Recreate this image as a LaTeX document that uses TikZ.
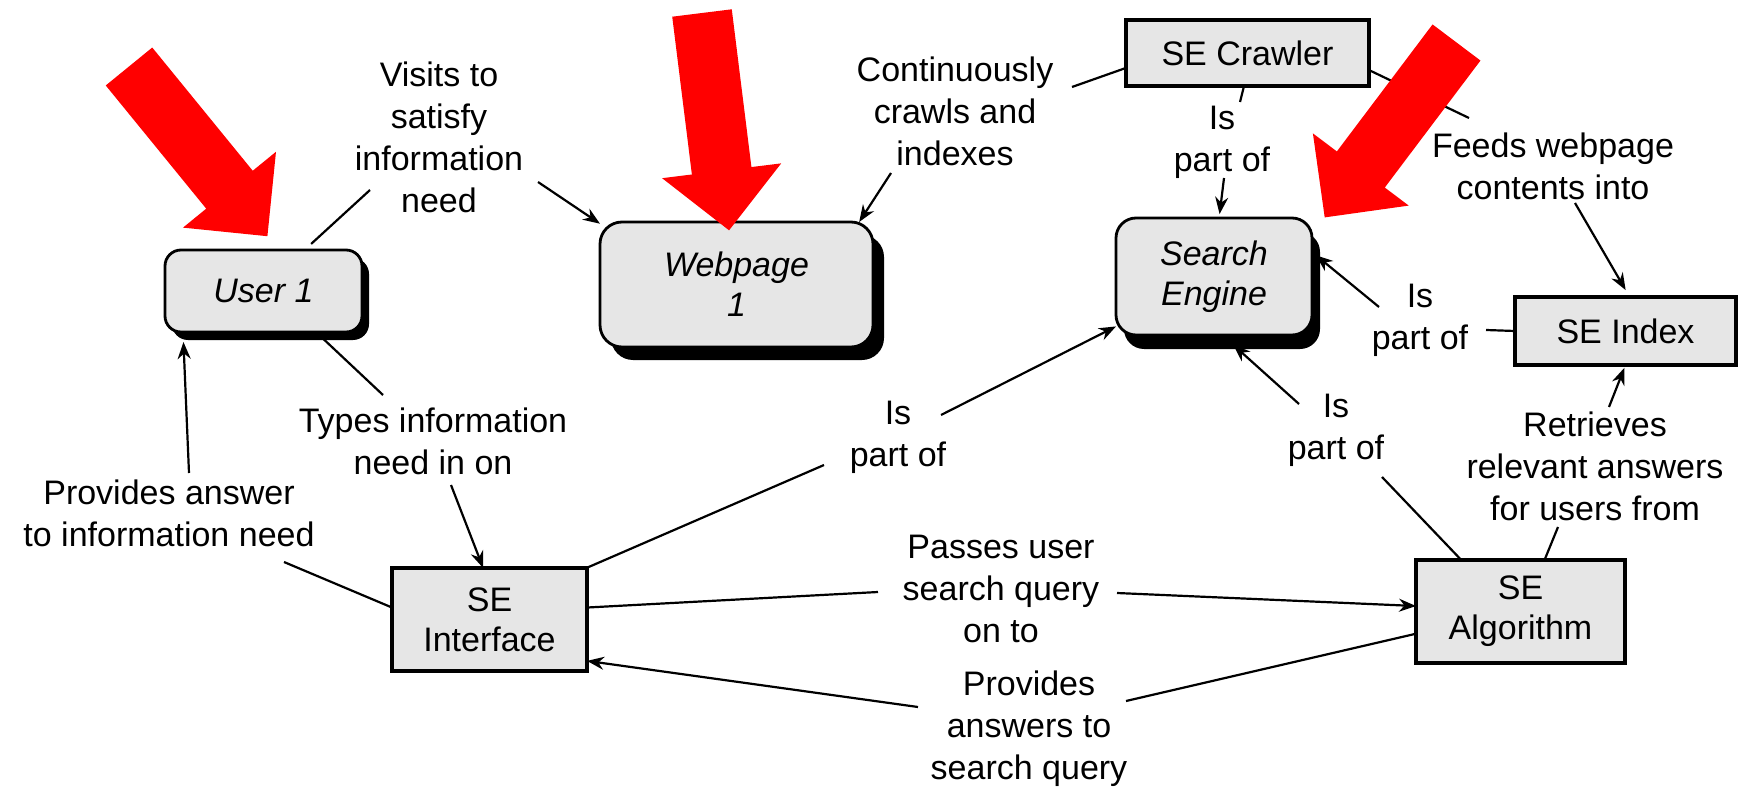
\documentclass[tikz,border=0pt]{standalone}
\usepackage{fontspec}
\setmainfont{Liberation Sans}
\usetikzlibrary{arrows.meta,shadows}
\definecolor{boxgray}{RGB}{230,230,230}
\definecolor{arrowred}{RGB}{255,0,0}
\newcommand{\boxfont}{\fontsize{34}{40}\selectfont}
\newcommand{\lblfont}{\fontsize{34}{42}\selectfont}
\tikzset{
  concept/.style={draw=black, line width=2.8pt, fill=boxgray, rounded corners=16pt,
    inner sep=0pt, outer sep=0pt, align=center, font=\boxfont\itshape},
  part/.style={draw=black, line width=3.5pt, fill=boxgray, inner sep=0pt, outer sep=0pt,
    align=center, font=\boxfont},
  lbl/.style={align=center, font=\lblfont, inner sep=0pt},
  link/.style={line width=2.2pt},
  linkarrow/.style={line width=2.2pt, -{Stealth[length=17pt,width=13pt]}},
  redarrow/.style={fill=arrowred, draw=none},
}
\begin{document}
\begin{tikzpicture}[x=1pt,y=-1pt]
\useasboundingbox (0,0) rectangle (1742,794);
\fill[white] (0,0) rectangle (1742,794);

% concept boxes
\node[concept, minimum width=197pt, minimum height=82pt,
  drop shadow={shadow xshift=7pt,shadow yshift=-8pt,fill=black,opacity=1}]
  (user) at (263.5,291) {User 1};
\node[concept, minimum width=273pt, minimum height=125pt, rounded corners=22pt,
  drop shadow={shadow xshift=11pt,shadow yshift=-13pt,fill=black,opacity=1}]
  (webpage) at (736.5,284.5) {Webpage\\1};
\node[concept, minimum width=196pt, minimum height=117pt, rounded corners=20pt,
  drop shadow={shadow xshift=8pt,shadow yshift=-14pt,fill=black,opacity=1}]
  (se) at (1214,276.5) {Search\\Engine};

% part boxes
\node[part, minimum width=243pt, minimum height=66pt] (crawler) at (1247.5,53) {SE Crawler};
\node[part, minimum width=221pt, minimum height=68pt] (index) at (1625.5,331) {SE Index};
\node[part, minimum width=195pt, minimum height=103pt] (iface) at (489.5,619.5) {SE\\Interface};
\node[part, minimum width=209pt, minimum height=103pt] (algo) at (1520.5,611.5) {SE\\Algorithm};

% link labels
\node[lbl] (visits) at (439,137.5) {Visits to\\satisfy\\information\\need};
\node[lbl] (crawls) at (955,111.5) {Continuously\\crawls and\\indexes};
\node[lbl] (partofA) at (1222,142.5) {Is\\part of};
\node[lbl] (feeds) at (1553,166) {Feeds webpage\\contents into};
\node[lbl] (partofB) at (1420,320) {Is\\part of};
\node[lbl] (types) at (433,441) {Types information\\need in on};
\node[lbl] (provA) at (169,513) {Provides answer\\to information need};
\node[lbl] (partofC) at (898,437) {Is\\part of};
\node[lbl] (partofD) at (1336,430) {Is\\part of};
\node[lbl] (retr) at (1595,466.5) {Retrieves\\relevant answers\\for users from};
\node[lbl] (passes) at (1001,588.5) {Passes user\\search query\\on to};
\node[lbl] (provB) at (1029,728.5) {Provides\\answers to\\search query};

% connector ends beside the labels
\coordinate (visits-a) at (370,190);   \coordinate (visits-b) at (538,182);
\coordinate (crawls-a) at (1072,87);   \coordinate (crawls-b) at (891,173);
\coordinate (partofA-a) at (1240,102); \coordinate (partofA-b) at (1224,178);
\coordinate (feeds-a) at (1469,118);   \coordinate (feeds-b) at (1575,203);
\coordinate (partofB-a) at (1486,330); \coordinate (partofB-b) at (1379,307);
\coordinate (types-a) at (383,395);    \coordinate (types-b) at (451,485);
\coordinate (provA-a) at (284,562);    \coordinate (provA-b) at (189,473);
\coordinate (partofC-a) at (824,465);  \coordinate (partofC-b) at (941,415);
\coordinate (partofD-a) at (1382,477); \coordinate (partofD-b) at (1299,404);
\coordinate (retr-a) at (1558,527);    \coordinate (retr-b) at (1609,407);
\coordinate (passes-a) at (878,592);   \coordinate (passes-b) at (1117,593);
\coordinate (provB-a) at (1126,701);   \coordinate (provB-b) at (918,707);

% connectors
\draw[link, shorten <=9pt] (user.45) -- (visits-a);
\draw[linkarrow] (visits-b) -- (webpage.156);
\draw[link] (crawler.187) -- (crawls-a);
\draw[linkarrow] (crawls-b) -- (webpage.27);
\draw[link] (crawler.264) -- (partofA-a);
\draw[linkarrow, shorten >=4pt] (partofA-b) -- (se.85);
\draw[link] (crawler.-8) -- (feeds-a);
\draw[linkarrow, shorten >=8pt] (feeds-b) -- (index.83);
\draw[link] (index.180) -- (partofB-a);
\draw[linkarrow, shorten >=5pt] (partofB-b) -- (se.14);
\draw[linkarrow, shorten >=10pt] (provA-b) -- (user.207);
\draw[link, shorten <=9pt] (user.-38) -- (types-a);
\draw[linkarrow] (types-b) -- (iface.97);
\draw[link] (iface.173) -- (provA-a);
\draw[link] (iface.28) -- (partofC-a);
\draw[linkarrow] (partofC-b) -- (se.207);
\draw[link] (algo.139) -- (partofD-a);
\draw[linkarrow, shorten >=15pt] (partofD-b) -- (se.-82);
\draw[link] (algo.65) -- (retr-a);
\draw[linkarrow, shorten >=3pt] (retr-b) -- (index.270);
\draw[link] (iface.7) -- (passes-a);
\draw[linkarrow] (passes-b) -- (algo.177);
\draw[link] (algo.192) -- (provB-a);
\draw[linkarrow] (provB-b) -- (iface.-23);

% red highlight arrows
\begin{scope}[shift={(129,66.5)}, rotate=-50.8]
  \fill[redarrow] (0,-30) -- (159,-30) -- (159,-60) -- (219,0) -- (159,60) -- (159,30) -- (0,30) -- cycle;
\end{scope}
\begin{scope}[shift={(702,13)}, rotate=-82.9]
  \fill[redarrow] (0,-30) -- (159,-30) -- (159,-60) -- (219,0) -- (159,60) -- (159,30) -- (0,30) -- cycle;
\end{scope}
\begin{scope}[shift={(1456.5,42.5)}, rotate=-127.0]
  \fill[redarrow] (0,-30) -- (159,-30) -- (159,-60) -- (219,0) -- (159,60) -- (159,30) -- (0,30) -- cycle;
\end{scope}
\end{tikzpicture}
\end{document}
